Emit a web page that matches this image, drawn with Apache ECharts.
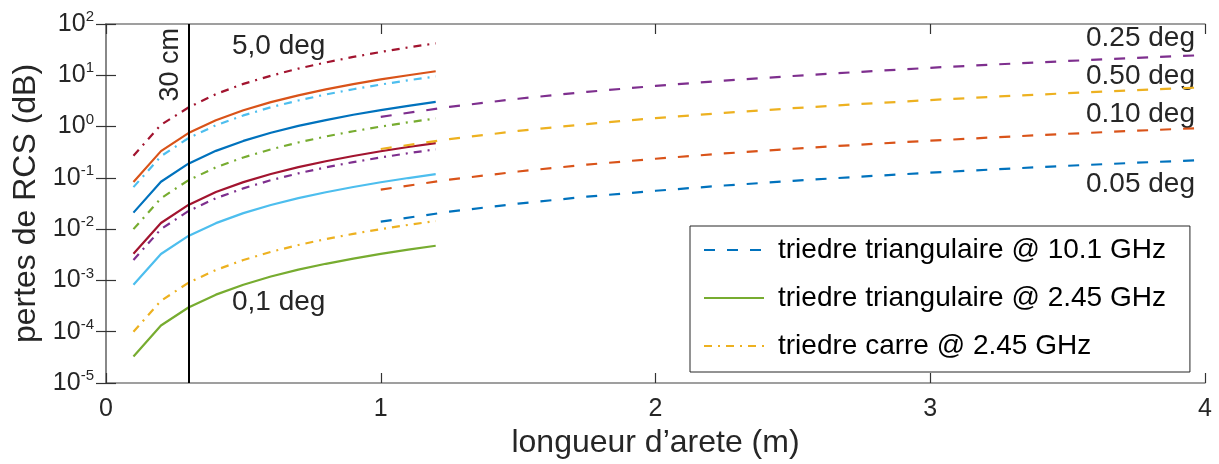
<!DOCTYPE html>
<html>
<head>
<meta charset="utf-8">
<script src="https://cdn.jsdelivr.net/npm/echarts@6/dist/echarts.min.js"></script>
<style>
  html, body { margin: 0; padding: 0; background: #fff; }
  #chart { width: 1219px; height: 464px; }
</style>
</head>
<body>
<div id="chart"></div>
<script>
// longueur d'arete (m)
const leftX = [0.1, 0.2, 0.3, 0.4, 0.5, 0.6, 0.7, 0.8, 0.9, 1.0, 1.1, 1.2]
const rightX = [1, 1.25, 1.5, 1.75, 2, 2.25, 2.5, 2.75, 3, 3.25, 3.5, 3.75, 4]

// triedre @ 2.45 GHz, de 0,1 deg a 5,0 deg (lecture sur la figure)
const darkRedDashDot = [0.27, 1.08, 2.35, 4.3, 6.8, 9.8, 13.5, 17.8, 22.8, 28.5, 35, 42]
const orangeSolid = [0.083, 0.332, 0.747, 1.33, 2.08, 2.99, 4.07, 5.31, 6.72, 8.3, 10.0, 12.0]
const lightBlueDashDot = [0.066, 0.264, 0.594, 1.06, 1.65, 2.38, 3.23, 4.22, 5.35, 6.6, 7.99, 9.5]
const blueSolid = [0.021, 0.084, 0.189, 0.336, 0.525, 0.756, 1.03, 1.34, 1.70, 2.1, 2.54, 3.02]
const greenDashDot = [0.01, 0.04, 0.09, 0.16, 0.25, 0.36, 0.49, 0.64, 0.81, 1.0, 1.21, 1.44]
const darkRedSolid = [0.0033, 0.0132, 0.0297, 0.0528, 0.0825, 0.119, 0.162, 0.211, 0.267, 0.33, 0.399, 0.475]
const purpleDashDot = [0.0025, 0.01, 0.0225, 0.04, 0.0625, 0.09, 0.1225, 0.16, 0.2025, 0.25, 0.3025, 0.36]
const lightBlueSolid = [0.00082, 0.00328, 0.00738, 0.0131, 0.0205, 0.0295, 0.0402, 0.0525, 0.0664, 0.082, 0.0992, 0.118]
const yellowDashDot = [0.0001, 0.0004, 0.0009, 0.0016, 0.0025, 0.0036, 0.0049, 0.0064, 0.0081, 0.01, 0.0121, 0.0144]
const greenSolid = [3.3e-5, 1.32e-4, 2.97e-4, 5.28e-4, 8.25e-4, 1.19e-3, 1.62e-3, 2.11e-3, 2.67e-3, 3.3e-3, 3.99e-3, 4.75e-3]

// triedre triangulaire @ 10.1 GHz
const blue005 = [0.014, 0.0219, 0.0315, 0.0429, 0.056, 0.0709, 0.0875, 0.106, 0.126, 0.148, 0.172, 0.197, 0.224]
const orange010 = [0.059, 0.0922, 0.133, 0.181, 0.236, 0.299, 0.369, 0.446, 0.531, 0.623, 0.723, 0.830, 0.944]
const yellow050 = [0.365, 0.570, 0.821, 1.12, 1.46, 1.85, 2.28, 2.76, 3.29, 3.86, 4.47, 5.13, 5.84]
const purple025 = [1.55, 2.42, 3.49, 4.75, 6.2, 7.85, 9.69, 11.7, 14.0, 16.4, 19.0, 21.8, 24.8]

const legendNames = ['triedre triangulaire @ 10.1 GHz', 'triedre triangulaire @ 2.45 GHz', 'triedre carre @ 2.45 GHz']
const yTickExp = [-5, -4, -3, -2, -1, 0, 1, 2]

const C = {
  blue: '#0072BD', orange: '#D95319', yellow: '#EDB120', purple: '#7E2F8E',
  green: '#77AC30', lightBlue: '#4DBEEE', darkRed: '#A2142F'
}
const SOLID = 'solid'
const DASH = [11, 12]
const DASHDOT = [8, 6, 2, 6]
const TXT = '#262626'
const AXIS = '#808080'

function line(name, xs, ys, color, type) {
  return {
    name,
    type: 'line',
    data: xs.map((x, i) => [x, ys[i]]),
    symbol: 'none',
    lineStyle: { width: 2.2, color, type },
    itemStyle: { color },
    silent: true,
  }
}

// les series qui portent la legende viennent en premier
const series = [
  line(legendNames[0], rightX, blue005, C.blue, DASH),
  line(legendNames[1], leftX, greenSolid, C.green, SOLID),
  line(legendNames[2], leftX, yellowDashDot, C.yellow, DASHDOT),
  line('s4', leftX, lightBlueSolid, C.lightBlue, SOLID),
  line('s5', leftX, purpleDashDot, C.purple, DASHDOT),
  line('s6', leftX, darkRedSolid, C.darkRed, SOLID),
  line('s7', leftX, greenDashDot, C.green, DASHDOT),
  line('s8', leftX, blueSolid, C.blue, SOLID),
  line('s9', leftX, lightBlueDashDot, C.lightBlue, DASHDOT),
  line('s10', leftX, orangeSolid, C.orange, SOLID),
  line('s11', leftX, darkRedDashDot, C.darkRed, DASHDOT),
  line('s12', rightX, orange010, C.orange, DASH),
  line('s13', rightX, yellow050, C.yellow, DASH),
  line('s14', rightX, purple025, C.purple, DASH),
]

// ligne verticale a 30 cm
series[series.length - 1].markLine = {
  silent: true,
  symbol: ['none', 'none'],
  lineStyle: { color: '#000', width: 2, type: 'solid' },
  label: { show: true, formatter: '30 cm', position: 'insideEndTop', fontSize: 27, color: TXT, distance: 4 },
  data: [{ xAxis: 0.3 }],
}

const chart = echarts.init(document.getElementById('chart'))

const baseX = {
  type: 'value', min: 0, max: 4, interval: 1,
  axisLine: { onZero: false, lineStyle: { color: AXIS, width: 1.5 } },
  axisTick: { inside: true, length: 10, lineStyle: { color: '#333', width: 1.2 } },
  splitLine: { show: false },
}
const baseY = {
  type: 'log', logBase: 10, min: 1e-5, max: 100, interval: 1,
  axisLine: { lineStyle: { color: AXIS, width: 1.5 } },
  axisTick: { inside: true, length: 10, lineStyle: { color: '#333', width: 1.2 } },
  splitLine: { show: false },
  minorTick: { show: false },
}

chart.setOption({
  animation: false,
  textStyle: { fontFamily: '"Liberation Sans", Arial, Helvetica, sans-serif' },
  grid: { left: 106, right: 14, top: 24, bottom: 81 },
  legend: {
    data: legendNames,
    orient: 'vertical',
    left: 690,
    top: 226,
    itemWidth: 60,
    itemHeight: 14,
    itemGap: 20,
    padding: [10, 24, 12, 13],
    borderColor: TXT,
    borderWidth: 1,
    backgroundColor: '#fff',
    selectedMode: false,
    itemStyle: { opacity: 0, borderWidth: 0 },
    textStyle: { fontSize: 28, color: '#000', padding: [0, 0, 0, 9] },
  },
  xAxis: [
    Object.assign({}, baseX, {
      position: 'bottom',
      axisLabel: { fontSize: 25, color: TXT, margin: 14 },
      name: 'longueur d’arete (m)',
      nameLocation: 'middle',
      nameGap: 40,
      nameTextStyle: { fontSize: 32, color: TXT },
    }),
    Object.assign({}, baseX, { position: 'top', axisLabel: { show: false } }),
  ],
  yAxis: [
    Object.assign({}, baseY, {
      position: 'left',
      axisLabel: {
        margin: 12,
        formatter: (v) => {
          const e = Math.round(Math.log10(v))
          return yTickExp.includes(e) ? '{b|10}{s|' + e + '}' : ''
        },
        rich: {
          b: { fontSize: 25, color: TXT },
          s: { fontSize: 15, color: TXT, verticalAlign: 'top', padding: [0, 0, 14, 0] },
        },
      },
      name: 'pertes de RCS (dB)',
      nameLocation: 'middle',
      nameRotate: 90,
      nameGap: 63,
      nameTextStyle: { fontSize: 32, color: TXT },
    }),
    Object.assign({}, baseY, { position: 'right', axisLabel: { show: false } }),
  ],
  graphic: [
    { type: 'text', left: 232, top: 32, style: { text: '5,0 deg', fontSize: 28, fill: TXT } },
    { type: 'text', left: 232, top: 288, style: { text: '0,1 deg', fontSize: 28, fill: TXT } },
    { type: 'text', right: 24, top: 24, style: { text: '0.25 deg', fontSize: 28, fill: TXT } },
    { type: 'text', right: 24, top: 62, style: { text: '0.50 deg', fontSize: 28, fill: TXT } },
    { type: 'text', right: 24, top: 100, style: { text: '0.10 deg', fontSize: 28, fill: TXT } },
    { type: 'text', right: 24, top: 170, style: { text: '0.05 deg', fontSize: 28, fill: TXT } },
  ],
  series,
})
</script>
</body>
</html>
